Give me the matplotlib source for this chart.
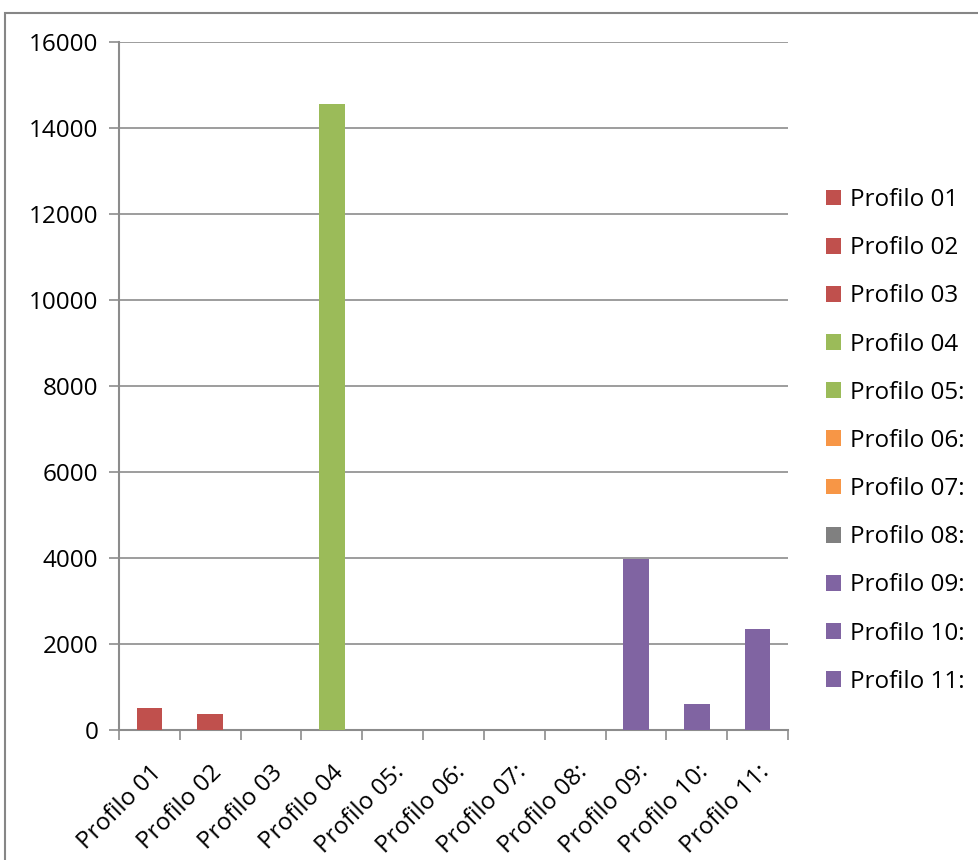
import matplotlib
matplotlib.use("Agg")
import matplotlib.pyplot as plt
from matplotlib.patches import Patch, Rectangle

categories = ["Profilo 01", "Profilo 02", "Profilo 03", "Profilo 04", "Profilo 05:",
              "Profilo 06:", "Profilo 07:", "Profilo 08:", "Profilo 09:", "Profilo 10:",
              "Profilo 11:"]
values = [510, 370, 0, 14560, 0, 0, 0, 0, 3980, 605, 2350]
colors = ["#C0504D", "#C0504D", "#C0504D", "#9BBB59", "#9BBB59", "#F79646",
          "#F79646", "#808080", "#8064A2", "#8064A2", "#8064A2"]
yticks = [0, 2000, 4000, 6000, 8000, 10000, 12000, 14000, 16000]

plt.rcParams['font.family'] = ['Open Sans', 'DejaVu Sans']

fig = plt.figure(figsize=(9.79, 8.6), dpi=100)
W, H = 979, 860
# outer chart border
fig.patches.append(Rectangle((5 / W, -0.1), 1.2, (H - 13) / H + 0.1,
                             transform=fig.transFigure, fill=False,
                             edgecolor="#868686", linewidth=1.5))

ax = fig.add_axes([119 / W, 1 - 730 / H, (788 - 119) / W, (730 - 42) / H])
x = list(range(len(categories)))
ax.bar(x, values, width=0.42, color=colors, zorder=3)

ax.set_xlim(-0.5, len(categories) - 0.5)
ax.set_ylim(0, 16000)
ax.set_yticks(yticks)
ax.set_yticklabels([str(v) for v in yticks], fontsize=17.5)
ax.yaxis.grid(True, color="#8C8C8C", linewidth=1.2, zorder=0)
ax.set_axisbelow(True)

ax.set_xticks([i - 0.5 for i in range(len(categories) + 1)], minor=False)
ax.set_xticklabels([])
ax.set_xticks(x, minor=True)
ax.set_xticklabels(categories, minor=True, rotation=45, ha="right",
                   rotation_mode="anchor", fontsize=17.5)
ax.tick_params(axis="x", which="minor", length=0, pad=22)
ax.tick_params(axis="x", which="major", length=7, width=1.2, color="#8C8C8C", direction="out")
ax.tick_params(axis="y", length=7, width=1.2, color="#8C8C8C", pad=8)

for s in ["top", "right"]:
    ax.spines[s].set_visible(False)
for s in ["left", "bottom"]:
    ax.spines[s].set_color("#8C8C8C")
    ax.spines[s].set_linewidth(1.5)

handles = [Patch(facecolor=c, edgecolor="none") for c in colors]
fig.legend(handles, categories, loc="upper left", bbox_to_anchor=(826 / W, 1 - 188 / H),
           frameon=False, fontsize=17.5, handlelength=0.62, handleheight=0.62,
           handletextpad=0.35, labelspacing=0.995, borderaxespad=0, borderpad=0)

fig.savefig("out.png", dpi=100)
